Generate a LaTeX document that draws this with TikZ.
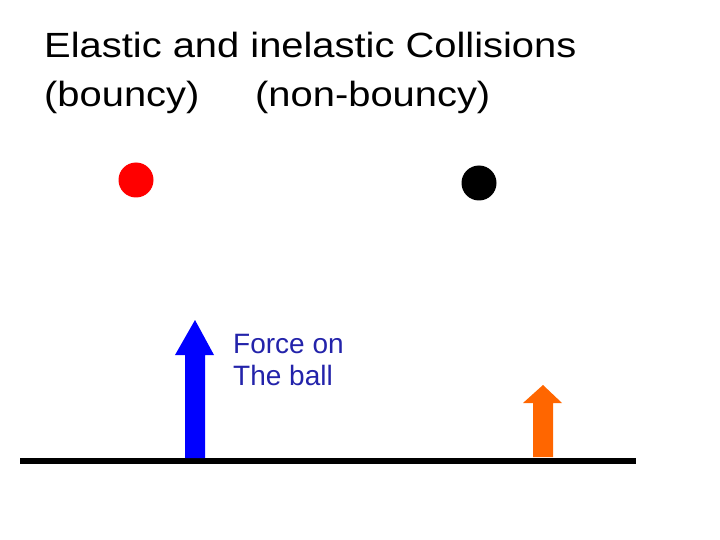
\documentclass[tikz,border=0pt]{standalone}
\usepackage{fontspec}
\setmainfont{Liberation Sans}
\definecolor{labelblue}{RGB}{35,35,170}
\definecolor{arrowblue}{RGB}{0,0,255}
\definecolor{arroworange}{RGB}{255,102,0}
\begin{document}
\begin{tikzpicture}[x=1pt,y=-1pt,
  title/.style={anchor=base west,inner sep=0pt,font=\fontsize{35}{40}\selectfont},
  ball/.style={circle,minimum size=35pt,inner sep=0pt},
  lbl/.style={anchor=base west,inner sep=0pt,font=\fontsize{28}{32}\selectfont,text=labelblue}]
\useasboundingbox (0,0) rectangle (720,540);
\node[title] (t1) at (44,58) {\scalebox{1.14}[1]{Elastic and inelastic Collisions}};
\node[title] (t2) at (44,107) {\scalebox{1.14}[1]{(bouncy)}};
\node[title] (t3) at (255,107) {\scalebox{1.14}[1]{(non-bouncy)}};
\node[ball,fill=red] (b1) at (136,180) {};
\node[ball,fill=black] (b2) at (479,183) {};
\coordinate (g1) at (20,461);
\coordinate (g2) at (636,461);
\draw[line width=6pt] (g1) -- (g2);
% blue force arrow
\fill[arrowblue] (185,458) -- (185,355) -- (175,355) -- (195,320) -- (214,355) -- (205,355) -- (205,458) -- cycle;
% orange force arrow
\fill[arroworange] (533,457) -- (533,403) -- (523,403) -- (543,385) -- (562,403) -- (553,403) -- (553,457) -- cycle;
\node[lbl] (f1) at (233,353) {Force on};
\node[lbl] (f2) at (233,385) {The ball};
\end{tikzpicture}
\end{document}
